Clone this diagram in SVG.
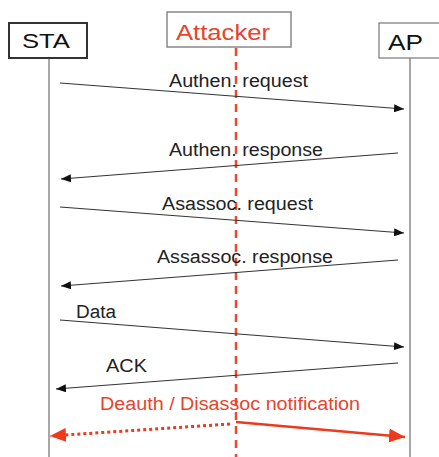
<svg xmlns="http://www.w3.org/2000/svg" width="439" height="457" viewBox="0 0 439 457">
<style>
text{font-family:"Liberation Sans",Arial,sans-serif;}
.lbl{font-size:18px;fill:#222;}
.red{fill:#e8432c;}
.msg{stroke:#333;stroke-width:1.2;fill:none;marker-end:url(#ah);}
.life{stroke:#8a8a8a;stroke-width:1.5;}
</style>
<defs>
<marker id="ah" viewBox="0 0 10 8" refX="10" refY="4" markerWidth="10" markerHeight="8" markerUnits="userSpaceOnUse" orient="auto">
<path d="M0,0 L10,4 L0,8 Z" fill="#111"/>
</marker>
<marker id="rah" viewBox="0 0 16 14" refX="16" refY="7" markerWidth="16" markerHeight="14" markerUnits="userSpaceOnUse" orient="auto">
<path d="M0,0 L16,7 L0,14 Z" fill="#ee3a1c"/>
</marker>
</defs>
<rect width="439" height="457" fill="#fff"/>
<g id="lifelines">
<line class="life" x1="49" y1="58" x2="49" y2="457"/>
<line class="life" x1="410" y1="58" x2="410" y2="457"/>
<line x1="236" y1="48" x2="236" y2="457" stroke="#ec4a2e" stroke-width="2.5" stroke-dasharray="8,6"/>
</g>
<g id="STA">
<rect x="9" y="23" width="78" height="35" fill="#fff" stroke="#333" stroke-width="2"/>
<text x="22" y="48" font-size="21" fill="#111" textLength="48" lengthAdjust="spacingAndGlyphs">STA</text>
</g>
<g id="Attacker">
<rect x="167" y="12" width="124" height="35" fill="#fff" stroke="#888" stroke-width="1.5"/>
<text x="176" y="40" font-size="22" class="red" textLength="94" lengthAdjust="spacingAndGlyphs">Attacker</text>
</g>
<g id="AP">
<rect x="379" y="23" width="70" height="35" fill="#fff" stroke="#777" stroke-width="1.2"/>
<text x="388" y="50" font-size="22" fill="#111" textLength="35" lengthAdjust="spacingAndGlyphs">AP</text>
</g>
<g id="connectors">
<line class="msg" x1="60" y1="83" x2="404" y2="109"/>
<line class="msg" x1="398" y1="153" x2="61" y2="179"/>
<line class="msg" x1="60" y1="207" x2="404" y2="233"/>
<line class="msg" x1="398" y1="260" x2="61" y2="286"/>
<line class="msg" x1="60" y1="320" x2="404" y2="347"/>
<line class="msg" x1="398" y1="363" x2="56" y2="389"/>
<line x1="230" y1="424" x2="50" y2="436" stroke="#ee3a1c" stroke-width="3" stroke-dasharray="3,3" marker-end="url(#rah)"/>
<line x1="236" y1="422" x2="405" y2="437" stroke="#ee3a1c" stroke-width="2.5" marker-end="url(#rah)"/>
</g>
<g id="labels">
<text class="lbl" x="169" y="87" textLength="139" lengthAdjust="spacingAndGlyphs">Authen. request</text>
<text class="lbl" x="169" y="156" textLength="154" lengthAdjust="spacingAndGlyphs">Authen. response</text>
<text class="lbl" x="162" y="210" textLength="151" lengthAdjust="spacingAndGlyphs">Asassoc. request</text>
<text class="lbl" x="157" y="263" textLength="176" lengthAdjust="spacingAndGlyphs">Assassoc. response</text>
<text class="lbl" x="76" y="318" textLength="40" lengthAdjust="spacingAndGlyphs">Data</text>
<text class="lbl" x="106" y="372" textLength="41" lengthAdjust="spacingAndGlyphs">ACK</text>
<text class="lbl red" x="100" y="410" textLength="260" lengthAdjust="spacingAndGlyphs">Deauth / Disassoc notification</text>
</g>
</svg>
